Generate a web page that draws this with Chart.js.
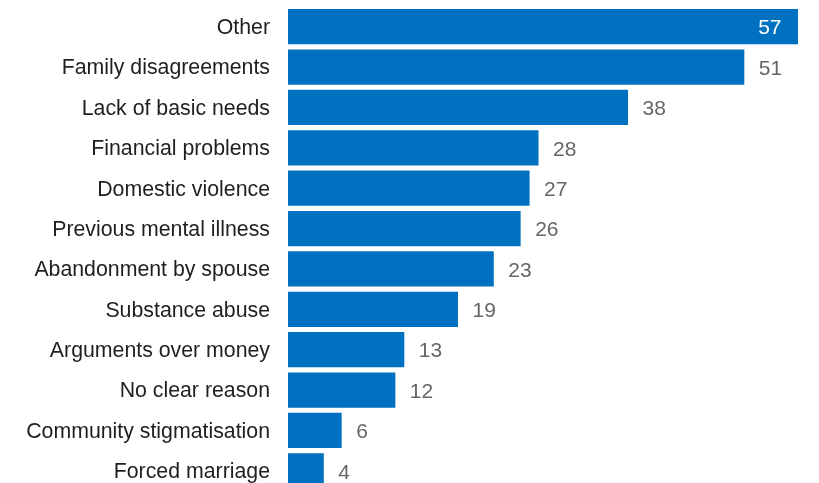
<!DOCTYPE html>
<html>
<head>
<meta charset="utf-8">
<script src="https://cdn.jsdelivr.net/npm/chart.js@4.4.0/dist/chart.umd.min.js"></script>
<style>
  html, body { margin: 0; padding: 0; overflow: hidden; background: #fff; }
  #wrap { width: 819px; height: 491px; position: relative; }
</style>
</head>
<body>
<div id="wrap"><canvas id="c"></canvas></div>
<script>
// categories, top to bottom
var labels = ['Other', 'Family disagreements', 'Lack of basic needs', 'Financial problems',
  'Domestic violence', 'Previous mental illness', 'Abandonment by spouse', 'Substance abuse',
  'Arguments over money', 'No clear reason', 'Community stigmatisation', 'Forced marriage'];
var datos = [57, 51, 38, 28, 27, 26, 23, 19, 13, 12, 6, 4];

var azul = '#0070C0';
var fuente = "'Liberation Sans', Arial, sans-serif";

// draws the numbers next to the bars (inside the bar for the biggest one)
var etiquetas = {
  id: 'etiquetas',
  afterDatasetsDraw: function (chart) {
    var ctx = chart.ctx;
    var meta = chart.getDatasetMeta(0);
    var max = chart.scales.x.max;
    ctx.save();
    ctx.font = '21px ' + fuente;
    ctx.textBaseline = 'middle';
    meta.data.forEach(function (bar, i) {
      var v = datos[i];
      if (v >= max) {
        ctx.fillStyle = '#ffffff';
        ctx.textAlign = 'right';
        ctx.fillText(v, bar.x - 16.5, bar.y + 2);
      } else {
        ctx.fillStyle = '#666666';
        ctx.textAlign = 'left';
        ctx.fillText(v, bar.x + 14.5, bar.y + 2);
      }
    });
    ctx.restore();
  }
};

var data = {
  labels: labels,
  datasets: [{
    data: datos,
    backgroundColor: azul,
    borderWidth: 0,
    barPercentage: 0.875,
    categoryPercentage: 1
  }]
};

var chartConfig = {
  type: 'bar',
  data: data,
  plugins: [etiquetas],
  options: {
    indexAxis: 'y',
    responsive: true,
    maintainAspectRatio: false,
    animation: false,
    layout: { padding: { top: 6.5, right: 21, bottom: 0, left: 0 } },
    plugins: { legend: { display: false }, tooltip: { enabled: false } },
    scales: {
      x: { display: false, min: 0, max: 57 },
      y: {
        grid: { display: false, drawTicks: false },
        border: { display: false },
        afterFit: function (s) {
          s.width = 288;
          s.paddingTop = 0;
          s.paddingBottom = 0;
        },
        ticks: {
          padding: 18,
          labelOffset: 1.5,
          color: '#1f1f1f',
          font: { size: 21.3, family: fuente }
        }
      }
    }
  }
};

new Chart(document.getElementById('c'), chartConfig);
</script>
</body>
</html>
